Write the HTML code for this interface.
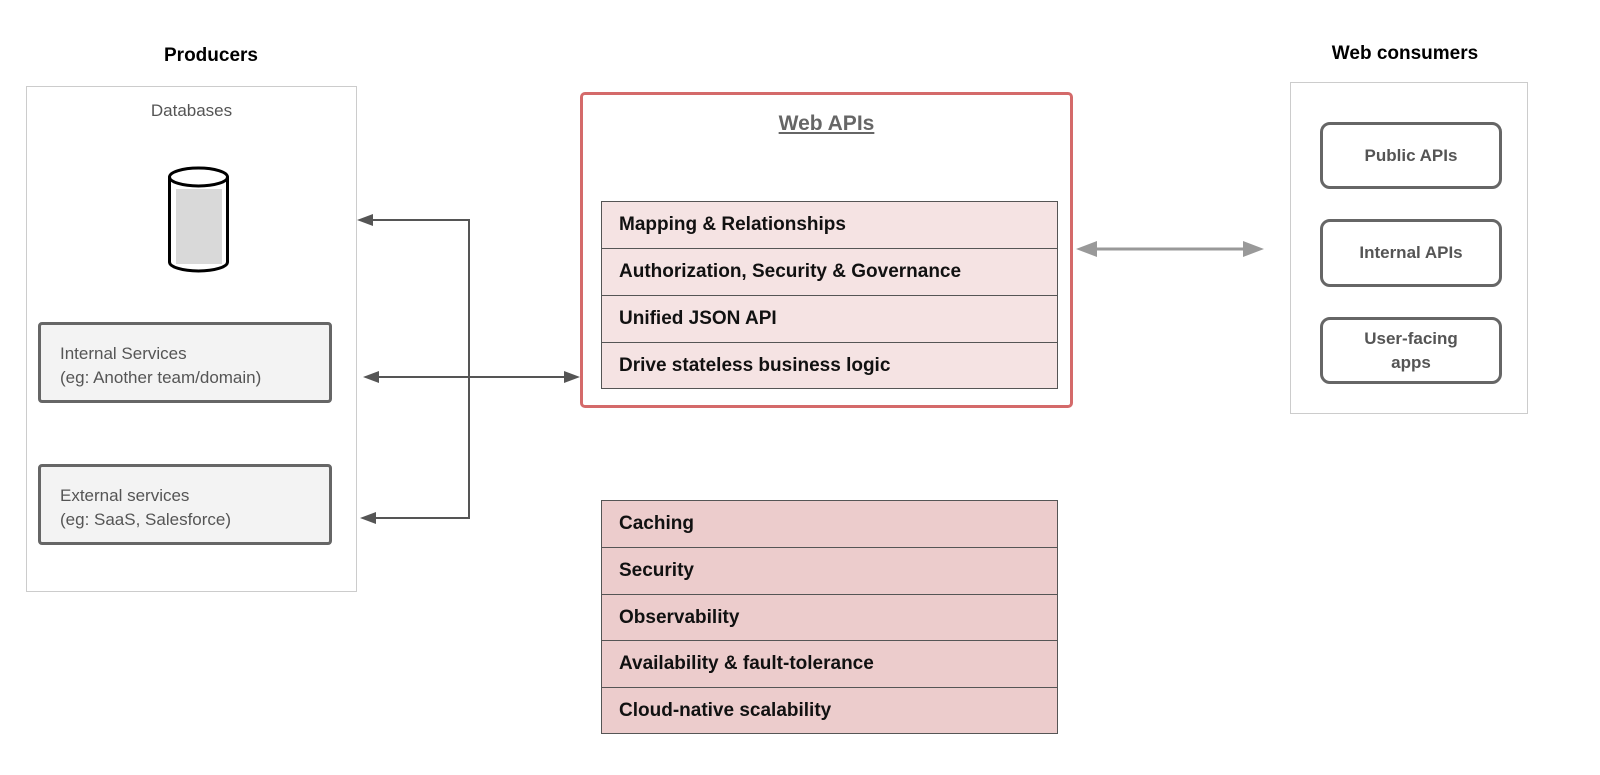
<!DOCTYPE html>
<html><head><style>
body{margin:0;width:1600px;height:775px;background:#fff;position:relative;font-family:"Liberation Sans",Arial,sans-serif;overflow:hidden}
.a{position:absolute;box-sizing:border-box}
.t{font-weight:bold;font-size:19px;color:#000;text-align:center}
.row{position:absolute;left:0;right:0;box-sizing:border-box;border-top:1.5px solid #555;padding-left:17px;font-weight:bold;font-size:19px;color:#111;display:flex;align-items:center}
.svc{border:3px solid #666;border-radius:4px;background:#f3f3f3;color:#555;font-size:17px;padding:17px 0 0 19px;line-height:24px}
.btn{border:3px solid #666;border-radius:10px;color:#555;font-weight:bold;font-size:17px;display:flex;align-items:center;justify-content:center;text-align:center;line-height:24px}
</style></head><body>
<div class="a t" style="left:111px;top:45px;width:200px">Producers</div>
<div class="a t" style="left:1290px;top:43px;width:230px">Web consumers</div>

<div class="a" style="left:26px;top:86px;width:331px;height:506px;border:1.5px solid #ccc"></div>
<div class="a" style="left:26px;top:101px;width:331px;text-align:center;color:#555;font-size:17px">Databases</div>
<svg class="a" style="left:0;top:0" width="400" height="300">
<path d="M169.5,177 L169.5,262 A29,9 0 0 0 227.5,262 L227.5,177" fill="#fff" stroke="#000" stroke-width="3"/>
<rect x="176" y="189" width="46" height="75" fill="#d9d9d9"/>
<ellipse cx="198.5" cy="177" rx="29" ry="9" fill="#fff" stroke="#000" stroke-width="3"/>
</svg>
<div class="a svc" style="left:38px;top:322px;width:294px;height:81px">Internal Services<br>(eg: Another team/domain)</div>
<div class="a svc" style="left:38px;top:464px;width:294px;height:81px">External services<br>(eg: SaaS, Salesforce)</div>

<svg class="a" style="left:0;top:0" width="1600" height="775">
<g stroke="#555" stroke-width="2" fill="none">
<polyline points="370,220 469,220 469,518 373,518"/>
<line x1="376" y1="377" x2="568" y2="377"/>
</g>
<g fill="#555">
<polygon points="357,220 373,214 373,226"/>
<polygon points="360,518 376,512 376,524"/>
<polygon points="363,377 379,371 379,383"/>
<polygon points="580,377 564,371 564,383"/>
</g>
<line x1="1090" y1="249" x2="1250" y2="249" stroke="#999" stroke-width="3"/>
<polygon points="1076,249 1097,241 1097,257" fill="#999"/>
<polygon points="1264,249 1243,241 1243,257" fill="#999"/>
</svg>

<div class="a" style="left:580px;top:92px;width:493px;height:316px;border:3px solid #d46a6a;border-radius:5px"></div>
<div class="a" style="left:580px;top:112px;width:493px;text-align:center;color:#666;font-weight:bold;font-size:21px;text-decoration:underline">Web APIs</div>
<div class="a" style="left:601px;top:201px;width:457px;height:188px;border:1.5px solid #555;background:#f5e3e3">
<div class="row" style="top:-1.5px;height:48px;border-top:none">Mapping &amp; Relationships</div>
<div class="row" style="top:46px;height:47px">Authorization, Security &amp; Governance</div>
<div class="row" style="top:93px;height:47px">Unified JSON API</div>
<div class="row" style="top:140px;height:47px">Drive stateless business logic</div>
</div>

<div class="a" style="left:601px;top:500px;width:457px;height:234px;border:1.5px solid #555;background:#eccccc">
<div class="row" style="top:0;height:46px;border-top:none">Caching</div>
<div class="row" style="top:46px;height:47px">Security</div>
<div class="row" style="top:93px;height:46px">Observability</div>
<div class="row" style="top:139px;height:47px">Availability &amp; fault-tolerance</div>
<div class="row" style="top:186px;height:46px">Cloud-native scalability</div>
</div>

<div class="a" style="left:1290px;top:82px;width:238px;height:332px;border:1.5px solid #ccc"></div>
<div class="a btn" style="left:1320px;top:122px;width:182px;height:67px">Public APIs</div>
<div class="a btn" style="left:1320px;top:219px;width:182px;height:68px">Internal APIs</div>
<div class="a btn" style="left:1320px;top:317px;width:182px;height:67px">User-facing<br>apps</div>
</body></html>
